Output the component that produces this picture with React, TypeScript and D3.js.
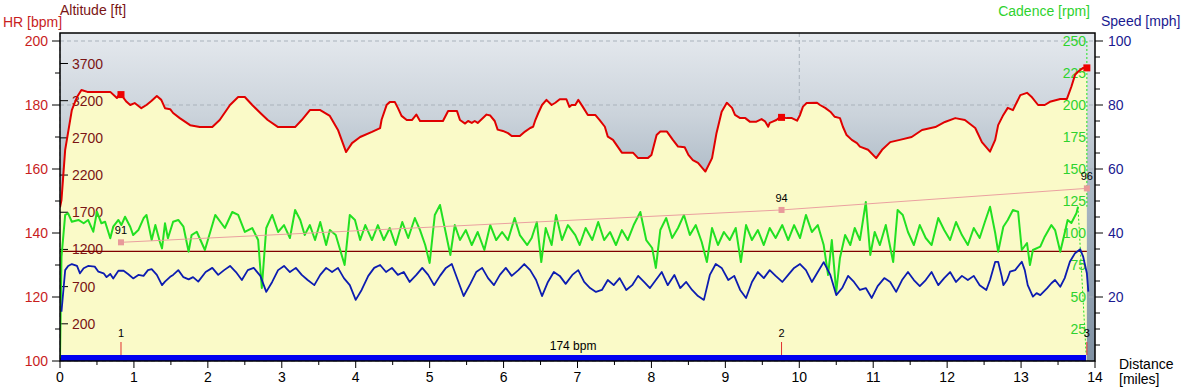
import * as d3 from "d3";

const WIDTH = 1187;
const HEIGHT = 389;
const MARGIN = { top: 33, right: 92, bottom: 28, left: 60 };
const FONT = "'Liberation Sans', Arial, sans-serif";

// heart rate [miles, bpm]
const heartRate: [number, number][] = [
  [0.0, 148], [0.02, 150.3], [0.07, 166], [0.16, 178.4], [0.23, 182.5], [0.29, 184.7], [0.37, 184.1],
  [0.68, 184.1], [0.77, 182.2], [0.81, 183.7], [0.85, 182.5], [0.9, 181], [0.95, 180], [1.01, 180.6],
  [1.1, 179], [1.17, 180], [1.24, 181.3], [1.31, 182.8], [1.37, 181.6], [1.42, 179], [1.49, 178.7],
  [1.53, 177.5], [1.62, 175.9], [1.76, 173.7], [1.89, 173.1], [2.06, 173.1], [2.16, 175.3], [2.3, 180],
  [2.41, 182.5], [2.5, 182.5], [2.6, 180], [2.71, 177.5], [2.81, 175.3], [2.95, 173.1], [3.18, 173.1],
  [3.27, 175.3], [3.38, 178.4], [3.52, 178.4], [3.65, 176.6], [3.76, 172.2], [3.87, 165.3], [3.95, 168.1],
  [4.06, 170], [4.22, 171.6], [4.33, 172.8], [4.35, 175.4], [4.42, 180.1], [4.46, 180.9], [4.53, 180.9],
  [4.57, 179.1], [4.62, 176.6], [4.69, 175.3], [4.76, 175.3], [4.82, 177], [4.87, 175], [5.18, 175],
  [5.25, 178.1], [5.37, 178.1], [5.41, 175.3], [5.48, 174.2], [5.52, 175], [5.57, 174.4], [5.61, 175],
  [5.65, 174.4], [5.77, 177], [5.82, 176.7], [5.88, 175], [5.92, 172.3], [5.99, 171.9], [6.06, 171.2],
  [6.11, 170.3], [6.22, 170.3], [6.29, 171.7], [6.36, 172.8], [6.4, 173.2], [6.43, 175.3], [6.47, 177.5],
  [6.52, 180], [6.58, 181.6], [6.65, 180], [6.7, 180.7], [6.76, 181.8], [6.85, 181.8], [6.89, 179.4],
  [6.92, 180], [6.97, 180], [7.01, 181.6], [7.07, 179.5], [7.14, 176.9], [7.24, 176.9], [7.3, 175.3],
  [7.37, 173.2], [7.41, 170.1], [7.48, 169.1], [7.6, 165.1], [7.75, 165.1], [7.82, 163.4], [7.95, 163.4],
  [8.0, 164.4], [8.07, 170.6], [8.12, 171.7], [8.21, 171.7], [8.29, 169.1], [8.36, 167], [8.45, 166.8],
  [8.5, 164.4], [8.56, 162.8], [8.63, 161.9], [8.73, 159.2], [8.82, 163.4], [8.88, 171.2], [8.95, 177.9],
  [9.02, 180.7], [9.09, 179.1], [9.13, 176.9], [9.2, 175.9], [9.27, 175.9], [9.33, 174.8], [9.42, 174.8],
  [9.49, 175.6], [9.54, 174.8], [9.58, 173.2], [9.6, 174.4], [9.64, 174.8], [9.69, 175.3], [9.74, 176.2],
  [9.83, 175.9], [9.9, 175.9], [9.97, 175.1], [10.01, 176.9], [10.05, 179.5], [10.1, 180.6], [10.24, 180.7],
  [10.28, 180], [10.35, 179.1], [10.42, 177.9], [10.48, 176.3], [10.55, 175.9], [10.59, 173.2], [10.64, 170.6],
  [10.71, 169.1], [10.78, 168.1], [10.82, 167], [10.93, 166], [11.04, 163.4], [11.12, 166], [11.23, 168.4],
  [11.36, 169.1], [11.52, 170], [11.66, 172.2], [11.84, 173.1], [11.97, 174.7], [12.11, 175.9], [12.24, 175.3],
  [12.38, 172.8], [12.47, 168.4], [12.58, 165.4], [12.65, 169.1], [12.69, 173.7], [12.76, 176.9], [12.82, 179.1],
  [12.89, 178.4], [12.99, 183.1], [13.08, 183.8], [13.14, 182.6], [13.23, 180], [13.32, 180], [13.39, 181],
  [13.53, 181.9], [13.62, 181.9], [13.68, 185.7], [13.73, 189.4], [13.77, 190.4], [13.84, 191.6], [13.89, 191.6],
];

// cadence [miles, rpm]
const cadence: [number, number][] = [
  [0.0, 2.3], [0.02, 81.5], [0.07, 114.1], [0.11, 115.4], [0.16, 108.8], [0.25, 110.2], [0.32, 107.6],
  [0.38, 110.2], [0.45, 101], [0.5, 116.6], [0.56, 107.6], [0.61, 108.8], [0.68, 95.9], [0.72, 104.9],
  [0.79, 110.2], [0.83, 106.2], [0.88, 112.7], [0.95, 104.9], [0.99, 98.4], [1.06, 102.3], [1.13, 111.5],
  [1.17, 114.1], [1.24, 94.5], [1.29, 106.2], [1.35, 93.2], [1.38, 88], [1.42, 107.6], [1.46, 95.9],
  [1.53, 108.8], [1.6, 110.2], [1.67, 104.9], [1.74, 85.4], [1.78, 98.4], [1.85, 101], [1.96, 86.7],
  [2.1, 114.1], [2.23, 103.9], [2.33, 116.4], [2.41, 114.1], [2.5, 100.8], [2.6, 103.9], [2.68, 94.5],
  [2.73, 57], [2.79, 103.9], [2.87, 114.1], [2.95, 100.8], [3.03, 106.2], [3.11, 96.1], [3.18, 118],
  [3.25, 110.2], [3.31, 98.4], [3.38, 106.2], [3.45, 94.5], [3.52, 108.6], [3.6, 90.6], [3.65, 102.3],
  [3.73, 98.4], [3.79, 86.7], [3.85, 75], [3.92, 114.1], [3.99, 110.2], [4.06, 94.5], [4.13, 106.2],
  [4.22, 94.5], [4.3, 106.2], [4.38, 94.5], [4.46, 103.9], [4.54, 90.6], [4.63, 108.6], [4.71, 96.1],
  [4.8, 111.7], [4.87, 102.3], [4.94, 90.6], [5.0, 76.6], [5.07, 114.1], [5.14, 121.9], [5.21, 102.3],
  [5.28, 82.8], [5.34, 106.2], [5.41, 94.5], [5.49, 102.3], [5.57, 90.6], [5.65, 100.8], [5.74, 86.7],
  [5.82, 106.2], [5.9, 94.5], [5.98, 100.8], [6.06, 94.5], [6.15, 111.7], [6.22, 98.4], [6.32, 90.6],
  [6.38, 96.1], [6.45, 108.6], [6.51, 77.3], [6.57, 103.9], [6.65, 90.6], [6.71, 114.1], [6.79, 94.5],
  [6.87, 106.2], [6.97, 98.4], [7.03, 90.6], [7.11, 103.9], [7.2, 94.5], [7.28, 108.6], [7.36, 94.5],
  [7.44, 100.8], [7.52, 90.6], [7.6, 102.3], [7.68, 94.5], [7.76, 106.2], [7.85, 116.4], [7.93, 94.5],
  [8.01, 88.3], [8.06, 72.7], [8.12, 102.3], [8.2, 111.7], [8.28, 96.1], [8.36, 103.9], [8.44, 114.1],
  [8.52, 98.4], [8.6, 106.2], [8.68, 93], [8.75, 77.3], [8.82, 103.9], [8.9, 90.6], [8.98, 100.8],
  [9.06, 94.5], [9.14, 103.9], [9.21, 77.3], [9.28, 106.2], [9.36, 94.5], [9.44, 102.3], [9.52, 90.6],
  [9.6, 103.9], [9.68, 96.1], [9.77, 106.2], [9.85, 94.5], [9.93, 106.2], [10.01, 96.1], [10.09, 114.1],
  [10.17, 100.8], [10.25, 106.2], [10.33, 90.6], [10.39, 67.2], [10.44, 94.5], [10.5, 53.9], [10.55, 80.5],
  [10.62, 98.4], [10.69, 90.6], [10.75, 103.9], [10.82, 94.5], [10.9, 124.2], [10.96, 82.8], [11.02, 100.8],
  [11.09, 90.6], [11.17, 106.2], [11.27, 77.3], [11.33, 118], [11.4, 114.1], [11.47, 100.8], [11.55, 90.6],
  [11.63, 106.2], [11.71, 96.1], [11.79, 90.6], [11.88, 111.7], [11.96, 102.3], [12.04, 94.5], [12.12, 108.6],
  [12.2, 98.4], [12.28, 90.6], [12.36, 103.9], [12.44, 96.1], [12.51, 108.6], [12.58, 120.5], [12.65, 100],
  [12.69, 85.4], [12.76, 104.9], [12.82, 110.2], [12.89, 118], [12.96, 116.6], [13.01, 86.7], [13.08, 92.2],
  [13.12, 75], [13.16, 86.7], [13.26, 89.3], [13.32, 97.1], [13.41, 106.2], [13.46, 102.3], [13.53, 85.4],
  [13.59, 100], [13.63, 110.2], [13.68, 107.8], [13.75, 115.6], [13.77, 120.5],
];
// cadence dropout at the very end (drawn dashed)
const cadenceTail: [number, number][] = [[13.77, 120.5], [13.88, 5]];

// speed [miles, mph]
const speed: [number, number][] = [
  [0.02, 15.4], [0.07, 28.4], [0.11, 29.7], [0.16, 30.3], [0.23, 29.7], [0.27, 27.4], [0.32, 29],
  [0.38, 29.7], [0.47, 29.5], [0.52, 27.9], [0.59, 27.4], [0.63, 26.2], [0.68, 27.2], [0.72, 25.8],
  [0.79, 28.2], [0.86, 28.2], [0.92, 27.2], [0.99, 25.8], [1.06, 26.9], [1.13, 26.6], [1.19, 28.4],
  [1.24, 28.7], [1.31, 26.9], [1.38, 23.7], [1.42, 24.8], [1.49, 26.3], [1.53, 26.9], [1.6, 28.4],
  [1.67, 26.2], [1.74, 25.5], [1.8, 26.2], [1.87, 24.8], [1.97, 27.8], [2.06, 29.1], [2.14, 26.9],
  [2.22, 28.4], [2.3, 29.7], [2.38, 27.8], [2.46, 25.3], [2.54, 28.4], [2.62, 29.1], [2.71, 26.6],
  [2.79, 21.6], [2.87, 24.7], [2.95, 28.4], [3.03, 29.7], [3.11, 27.8], [3.19, 29.1], [3.27, 26.9],
  [3.35, 25.3], [3.44, 23.7], [3.52, 26.9], [3.6, 29.1], [3.68, 27.8], [3.76, 29.1], [3.84, 25.9],
  [3.92, 23.7], [4.0, 19.1], [4.08, 22.2], [4.17, 26.6], [4.25, 29.1], [4.33, 30], [4.41, 27.8],
  [4.49, 29.1], [4.57, 26.9], [4.65, 27.8], [4.73, 24.7], [4.82, 26.9], [4.9, 29.1], [4.98, 26.9],
  [5.06, 23.7], [5.14, 26.6], [5.22, 29.1], [5.3, 30.3], [5.38, 25.3], [5.46, 20.3], [5.55, 24.1],
  [5.63, 27.8], [5.71, 29.1], [5.79, 25.9], [5.87, 23.7], [5.95, 26.9], [6.03, 29.1], [6.11, 26.6],
  [6.2, 28.4], [6.28, 30.3], [6.36, 28.4], [6.44, 25.3], [6.52, 20.3], [6.6, 24.7], [6.68, 27.8],
  [6.76, 26.6], [6.84, 24.1], [6.93, 26.9], [7.01, 28.4], [7.09, 24.7], [7.17, 22.8], [7.25, 21.6],
  [7.33, 22.2], [7.41, 25.3], [7.49, 23.7], [7.57, 25.9], [7.66, 22.2], [7.74, 23.7], [7.82, 26.6],
  [7.9, 24.7], [7.98, 22.8], [8.06, 25.3], [8.14, 27.8], [8.22, 23.7], [8.31, 26.9], [8.39, 22.8],
  [8.47, 24.7], [8.55, 22.2], [8.63, 20.3], [8.71, 19.1], [8.79, 26.9], [8.87, 30.3], [8.95, 29.1],
  [9.04, 25.3], [9.12, 26.6], [9.2, 22.2], [9.28, 19.7], [9.36, 24.7], [9.44, 27.8], [9.52, 25.9],
  [9.6, 28.4], [9.68, 26.6], [9.77, 24.7], [9.85, 26.9], [9.93, 29.1], [10.01, 30.3], [10.09, 28.4],
  [10.17, 24.7], [10.25, 27.8], [10.33, 30.9], [10.42, 26.9], [10.5, 20.6], [10.58, 22.8], [10.66, 26.6],
  [10.74, 24.7], [10.82, 22.2], [10.9, 22.8], [10.98, 19.7], [11.06, 23.4], [11.15, 25.9], [11.23, 24.7],
  [11.31, 21.6], [11.39, 25.3], [11.47, 27.8], [11.55, 25.3], [11.63, 23.4], [11.71, 25.3], [11.79, 27.8],
  [11.88, 23.7], [11.96, 25.9], [12.04, 27.8], [12.12, 24.7], [12.2, 26.6], [12.28, 25.3], [12.36, 26.6],
  [12.44, 23.7], [12.53, 22.2], [12.58, 25.3], [12.65, 31], [12.69, 31], [12.74, 26.3], [12.76, 23.7],
  [12.81, 25.3], [12.85, 27.9], [12.92, 28.4], [13.01, 31], [13.05, 28.4], [13.09, 23.7], [13.16, 20.1],
  [13.21, 21.2], [13.26, 20.6], [13.35, 22.7], [13.41, 24.3], [13.46, 25.3], [13.53, 23.2], [13.59, 25.9],
  [13.66, 31], [13.73, 33.7], [13.8, 34.9], [13.84, 32.6], [13.89, 27.4], [13.91, 21.7],
];

// altitude [miles, ft]
const altitude: [number, number][] = [[0, 1175], [13.89, 1175]];

// laps: distance, label, lap value
const lapDist = [0.825, 9.76, 13.89];
const lapLabels = ["1", "2", "3"];
const lapValues = [91, 94, 96];

// heart rate zone band
const zoneStart = 0;
const zoneEnd = 13.88;
const zoneLabel = "174 bpm";

const hrTicks = [100, 120, 140, 160, 180, 200];
const hrMinor = [110, 130, 150, 170, 190];
const altTicks = [200, 700, 1200, 1700, 2200, 2700, 3200, 3700];
const cadTicks = [25, 50, 75, 100, 125, 150, 175, 200, 225, 250];
const speedTicks = [20, 40, 60, 80, 100];
const distTicks = d3.range(0, 15);

const C = {
  hr: "#e00000",
  hrText: "#c81e1e",
  alt: "#800000",
  altText: "#7a1414",
  cad: "#22e022",
  cadText: "#2ed22e",
  speed: "#0c1cb0",
  speedText: "#1a1a90",
  lap: "#eaa0a0",
  fill: "#fafac8",
  grid: "#a9b2bb",
};

export default function App() {
  const left = MARGIN.left;
  const right = WIDTH - MARGIN.right;
  const top = MARGIN.top;
  const bottom = HEIGHT - MARGIN.bottom;

  const x = d3.scaleLinear().domain([0, 14]).range([left, right]);
  const hrY = d3.scaleLinear().domain([100, 202.5]).range([bottom, top]);
  const altY = d3.scaleLinear().domain([-300, 4110]).range([bottom, top]);
  const cadY = d3.scaleLinear().domain([0, 256.25]).range([bottom, top]);
  const spdY = d3.scaleLinear().domain([0, 102.5]).range([bottom, top]);
  const lapY = d3.scaleLinear().domain([80, 110.4]).range([bottom, top]);

  const lineFor = (y: d3.ScaleLinear<number, number>) =>
    d3.line<[number, number]>().x((d) => x(d[0])).y((d) => y(d[1]));

  const hrArea = d3
    .area<[number, number]>()
    .x((d) => x(d[0]))
    .y0(bottom)
    .y1((d) => hrY(d[1]));

  const hrAt = (m: number) => {
    const i = d3.bisector((d: [number, number]) => d[0]).left(heartRate, m);
    const a = heartRate[Math.max(0, i - 1)];
    const b = heartRate[Math.min(heartRate.length - 1, i)];
    if (a[0] === b[0]) return a[1];
    return a[1] + ((m - a[0]) / (b[0] - a[0])) * (b[1] - a[1]);
  };

  const lapPts: [number, number][] = lapDist.map((d, i) => [d, lapValues[i]]);
  const endX = x(heartRate[heartRate.length - 1][0]);

  return (
    <svg
      width={WIDTH}
      height={HEIGHT}
      style={{ position: "absolute", left: 0, top: 0, background: "#fff" }}
      fontFamily={FONT}
    >
      <defs>
        <linearGradient id="bg" x1="0" y1="0" x2="0" y2="1">
          <stop offset="0%" stopColor="#e5e9ee" />
          <stop offset="25%" stopColor="#cbd3db" />
          <stop offset="45%" stopColor="#adbac6" />
          <stop offset="100%" stopColor="#7f90a2" />
        </linearGradient>
        <clipPath id="plot">
          <rect x={left} y={top} width={right - left} height={bottom - top} />
        </clipPath>
      </defs>

      <rect x={left} y={top} width={right - left} height={bottom - top} fill="url(#bg)" />

      {/* grid */}
      {hrTicks.map((t) => (
        <line key={"gh" + t} x1={left} x2={right} y1={hrY(t)} y2={hrY(t)} stroke={C.grid} strokeDasharray="4,3" />
      ))}
      {[0, 10].map((t) => (
        <line key={"gv" + t} x1={x(t)} x2={x(t)} y1={top} y2={bottom} stroke={C.grid} strokeDasharray="4,3" />
      ))}

      <g clipPath="url(#plot)">
        <path d={hrArea(heartRate) || ""} fill={C.fill} />
      </g>

      {/* inner axis labels */}
      {altTicks.map((t) => (
        <g key={"a" + t}>
          <line x1={left} x2={left + 8} y1={altY(t)} y2={altY(t)} stroke="#000" />
          <text x={left + 12} y={altY(t)} dy="0.36em" fontSize={14} fill={C.altText}>
            {t}
          </text>
        </g>
      ))}
      {cadTicks.map((t) => (
        <text key={"c" + t} x={right - 9} y={cadY(t)} dy="0.36em" fontSize={14} fill={C.cadText} textAnchor="end">
          {t}
        </text>
      ))}

      {/* zone band */}
      <rect x={x(zoneStart)} y={bottom - 6} width={x(zoneEnd) - x(zoneStart)} height={6} fill="#0000f0" />
      <text x={(x(zoneStart) + x(zoneEnd)) / 2} y={bottom - 11} fontSize={12} textAnchor="middle" fill="#000">
        {zoneLabel}
      </text>

      <g clipPath="url(#plot)">
        <path d={lineFor(altY)(altitude) || ""} fill="none" stroke={C.alt} strokeWidth={1.2} />
        <path d={lineFor(cadY)(cadence) || ""} fill="none" stroke={C.cad} strokeWidth={2} strokeLinejoin="round" />
        <path d={lineFor(cadY)(cadenceTail) || ""} fill="none" stroke={C.cad} strokeWidth={1} strokeDasharray="2,2" />
        <line x1={endX} x2={endX} y1={cadY(250)} y2={cadY(120.5)} stroke={C.cad} strokeWidth={1} strokeDasharray="2,2" />
        <path d={lineFor(spdY)(speed) || ""} fill="none" stroke={C.speed} strokeWidth={1.8} strokeLinejoin="round" />
        <path d={lineFor(hrY)(heartRate) || ""} fill="none" stroke={C.hr} strokeWidth={2} strokeLinejoin="round" />
        <path d={lineFor(lapY)(lapPts) || ""} fill="none" stroke={C.lap} strokeWidth={1} />
      </g>

      {/* lap markers */}
      {lapDist.map((d, i) => (
        <g key={"lap" + i}>
          <rect x={x(d) - 3.5} y={hrY(hrAt(d)) - 3.5} width={7} height={7} fill="#ee0000" />
          <rect x={x(d) - 3} y={lapY(lapValues[i]) - 3} width={6} height={6} fill="#e89a9a" />
          <text x={x(d)} y={lapY(lapValues[i]) - 8} fontSize={11} textAnchor="middle" fill="#000">
            {lapValues[i]}
          </text>
          <line x1={x(d)} x2={x(d)} y1={bottom - 19} y2={bottom - 6} stroke="#e03030" />
          <text x={x(d)} y={bottom - 24} fontSize={11} textAnchor="middle" fill="#000">
            {lapLabels[i]}
          </text>
        </g>
      ))}

      {/* frame */}
      <rect x={left} y={top} width={right - left} height={bottom - top} fill="none" stroke="#000" strokeWidth={1.5} />

      {/* HR axis */}
      {hrTicks.map((t) => (
        <g key={"h" + t}>
          <line x1={left - 8} x2={left} y1={hrY(t)} y2={hrY(t)} stroke="#000" />
          <text x={left - 12} y={hrY(t)} dy="0.36em" fontSize={14} fill={C.hrText} textAnchor="end">
            {t}
          </text>
        </g>
      ))}
      {hrMinor.map((t) => (
        <line key={"hm" + t} x1={left - 5} x2={left} y1={hrY(t)} y2={hrY(t)} stroke="#000" />
      ))}

      {/* speed axis */}
      {d3.range(5, 101, 5).map((t) => (
        <line
          key={"s" + t}
          x1={right}
          x2={right + (t % 20 === 0 ? 8 : 5)}
          y1={spdY(t)}
          y2={spdY(t)}
          stroke="#000"
        />
      ))}
      {speedTicks.map((t) => (
        <text key={"st" + t} x={right + 13} y={spdY(t)} dy="0.36em" fontSize={14} fill={C.speedText}>
          {t}
        </text>
      ))}

      {/* distance axis */}
      {distTicks.map((t) => (
        <g key={"d" + t}>
          <line x1={x(t)} x2={x(t)} y1={bottom} y2={bottom + 7} stroke="#000" />
          <text x={x(t)} y={bottom + 21} fontSize={14} textAnchor="middle" fill="#000">
            {t}
          </text>
        </g>
      ))}
      {d3.range(0.5, 14, 1).map((t) => (
        <line key={"dm" + t} x1={x(t)} x2={x(t)} y1={bottom} y2={bottom + 4} stroke="#000" />
      ))}

      {/* titles */}
      <text x={3} y={27} fontSize={14} fill={C.hrText}>HR [bpm]</text>
      <text x={60} y={15} fontSize={14} fill={C.altText}>Altitude [ft]</text>
      <text x={1090} y={16} fontSize={14} fill={C.cadText} textAnchor="end">Cadence [rpm]</text>
      <text x={1101} y={26} fontSize={14} fill={C.speedText}>Speed [mph]</text>
      <text x={1119} y={369} fontSize={14} fill="#000">Distance</text>
      <text x={1119} y={384} fontSize={14} fill="#000">[miles]</text>
    </svg>
  );
}
